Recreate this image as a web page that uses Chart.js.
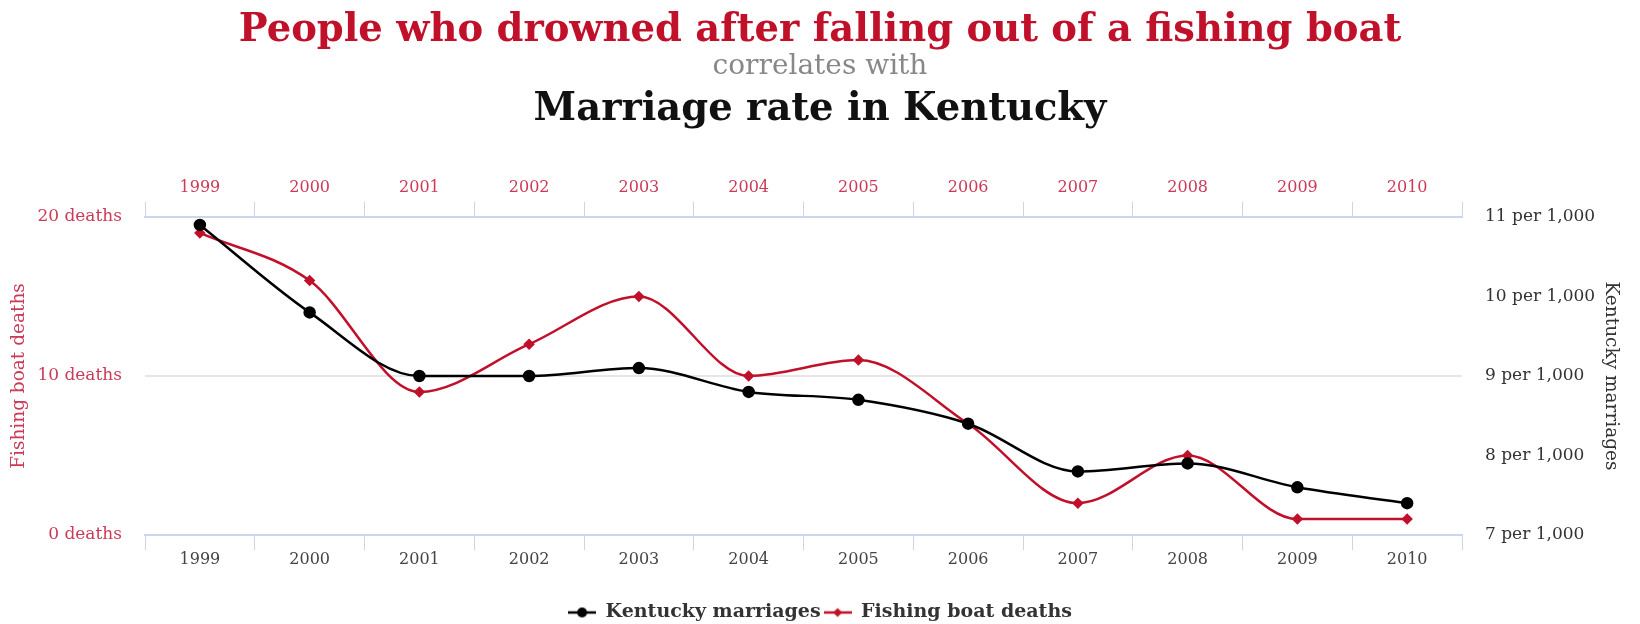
<!DOCTYPE html>
<html>
<head>
<meta charset="utf-8">
<script src="https://cdn.jsdelivr.net/npm/chart.js@4/dist/chart.umd.min.js"></script>
<style>
  html, body { margin: 0; padding: 0; background: #fff; }
  #wrap { position: relative; width: 1640px; height: 624px; overflow: hidden; }
  .t { position: absolute; left: 0; width: 1640px; text-align: center; font-family: "DejaVu Serif", serif; white-space: nowrap; line-height: 1.2; }
  #t1 { top: 5px; font-size: 38.5px; font-weight: bold; color: #c0102a; }
  #t2 { top: 48px; font-size: 28px; color: #888; }
  #t3 { top: 84px; font-size: 38.5px; font-weight: bold; color: #111; }
</style>
</head>
<body>
<div id="wrap">
  <canvas id="chart" width="1640" height="624"></canvas>
  <div class="t" id="t1">People who drowned after falling out of a fishing boat</div>
  <div class="t" id="t2">correlates with</div>
  <div class="t" id="t3">Marriage rate in Kentucky</div>
</div>
<script>
// values
const years = ["1999", "2000", "2001", "2002", "2003", "2004", "2005", "2006", "2007", "2008", "2009", "2010"];
const marriages = [10.9, 9.8, 9.0, 9.0, 9.1, 8.8, 8.7, 8.4, 7.8, 7.9, 7.6, 7.4];
const deaths = [19, 16, 9, 12, 15, 10, 11, 7, 2, 5, 1, 1];
const deathTicks = [0, 10, 20];
const marriageTicks = [7, 8, 9, 10, 11];

const RED = "#c0102a";
const LABEL_RED = "#cc3a57";
const AXIS = "#ccd6eb";
const FONT = "DejaVu Serif";

// small legend symbols: line with the marker on it
function legendIcon(color, shape) {
  const c = document.createElement("canvas");
  c.width = 28; c.height = 12;
  const g = c.getContext("2d");
  g.strokeStyle = color; g.lineWidth = 2.5;
  g.beginPath(); g.moveTo(0, 6); g.lineTo(28, 6); g.stroke();
  g.fillStyle = color;
  g.beginPath();
  if (shape === "circle") {
    g.arc(14, 6, 5, 0, Math.PI * 2);
  } else {
    g.moveTo(14, 1.5); g.lineTo(18.5, 6); g.lineTo(14, 10.5); g.lineTo(9.5, 6); g.closePath();
  }
  g.fill();
  return c;
}
const icons = [legendIcon("#000", "circle"), legendIcon(RED, "diamond")];

const xAxis = (pos, color) => ({
  type: "category",
  labels: years,
  position: pos,
  offset: true,
  grid: { offset: true, drawOnChartArea: false, tickLength: 15, color: AXIS, lineWidth: 1 },
  border: { color: AXIS, width: 2 },
  ticks: { color: color, font: { family: FONT, size: 16 }, padding: pos === "top" ? 5 : 0, maxRotation: 0 },
  afterFit: s => { s.height = pos === "top" ? 45 : 65; }
});

new Chart(document.getElementById("chart"), {
  type: "line",
  data: {
    labels: years,
    datasets: [
      {
        label: "Kentucky marriages",
        data: marriages,
        yAxisID: "yM",
        xAxisID: "x",
        borderColor: "#000",
        backgroundColor: "#000",
        borderWidth: 2.5,
        pointStyle: "circle",
        pointRadius: 5,
        cubicInterpolationMode: "monotone"
      },
      {
        label: "Fishing boat deaths",
        data: deaths,
        yAxisID: "yD",
        xAxisID: "x",
        borderColor: RED,
        backgroundColor: RED,
        borderWidth: 2.5,
        pointStyle: "rectRot",
        pointRadius: 4,
        cubicInterpolationMode: "monotone"
      }
    ]
  },
  options: {
    responsive: false,
    devicePixelRatio: 1,
    animation: false,
    layout: { padding: { top: 172, bottom: -8 } },
    plugins: {
      tooltip: { enabled: false },
      legend: {
        position: "bottom",
        labels: {
          usePointStyle: true,
          pointStyleWidth: 28,
          padding: 3,
          color: "#333",
          font: { family: FONT, size: 19, weight: "bold" },
          generateLabels: chart => {
            const items = Chart.defaults.plugins.legend.labels.generateLabels(chart);
            items.forEach((it, i) => { it.pointStyle = icons[i]; });
            return items;
          }
        }
      }
    },
    scales: {
      x: xAxis("bottom", "#444"),
      xTop: xAxis("top", LABEL_RED),
      yD: {
        position: "left",
        min: 0,
        max: 20,
        afterBuildTicks: s => { s.ticks = deathTicks.map(v => ({ value: v })); },
        ticks: {
          color: LABEL_RED,
          padding: 23,
          font: { family: FONT, size: 17 },
          callback: v => v + " deaths"
        },
        grid: {
          drawTicks: false,
          color: c => (c.tick && c.tick.value === 10 ? "#e6e6e6" : "rgba(0,0,0,0)"),
          lineWidth: 2
        },
        border: { display: false },
        title: {
          display: true,
          text: "Fishing boat deaths",
          color: LABEL_RED,
          font: { family: FONT, size: 18.5 },
          padding: { top: 8, bottom: 0 }
        },
        afterFit: s => { s.width = 145; }
      },
      yM: {
        position: "right",
        min: 7,
        max: 11,
        afterBuildTicks: s => { s.ticks = marriageTicks.map(v => ({ value: v })); },
        ticks: {
          color: "#333",
          padding: 23,
          font: { family: FONT, size: 17 },
          callback: v => v + " per 1,000"
        },
        grid: { display: false, drawTicks: false },
        border: { display: false },
        title: {
          display: true,
          text: "Kentucky marriages",
          color: "#333",
          font: { family: FONT, size: 18.5 },
          padding: { top: 18, bottom: 0 }
        },
        afterFit: s => { s.width = 178; }
      }
    }
  }
});
</script>
</body>
</html>
